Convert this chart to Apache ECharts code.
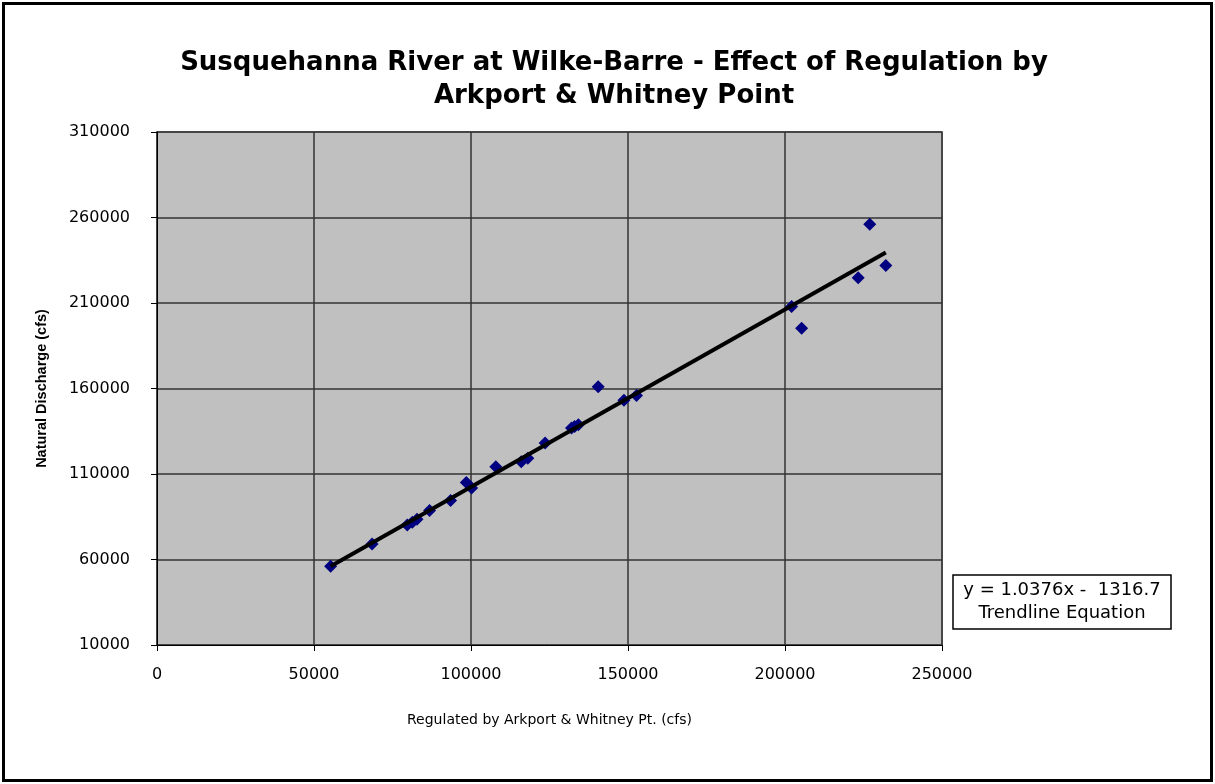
<!DOCTYPE html>
<html>
<head>
<meta charset="utf-8">
<script src="https://cdn.jsdelivr.net/npm/echarts@6/dist/echarts.min.js"></script>
<style>
  html, body { margin: 0; padding: 0; background: #fff; }
  #frame { position: absolute; left: 2px; top: 2px; width: 1205px; height: 774px; border: 3px solid #000; }
  #chart { width: 1215px; height: 784px; position: absolute; left: 0; top: 0; }
</style>
</head>
<body>
<div id="frame"></div>
<div id="chart"></div>
<script>
// regulated flow (x) vs natural discharge (y), cfs
const regulated = [55300, 68500, 79700, 81300, 82800, 86800, 93500, 98500, 100200, 107900, 116000, 118100, 123600, 132000, 133000, 134200, 140500, 148700, 152700, 202100, 205300, 223300, 227000, 232100]
const natural = [56100, 69000, 80200, 81800, 83500, 88600, 94500, 105000, 101800, 114300, 117200, 119200, 128100, 136900, 137800, 138800, 161000, 153100, 155900, 208000, 195300, 224700, 256000, 231900]
// Excel linear trendline
const slope = 1.0376
const intercept = -1316.7
const xTicks = [0, 50000, 100000, 150000, 200000, 250000]
const yTicks = [10000, 60000, 110000, 160000, 210000, 260000, 310000]

const points = regulated.map((x, i) => [x, natural[i]])
const xMin = Math.min(...regulated)
const xMax = Math.max(...regulated)
const trend = [[xMin, slope * xMin + intercept], [xMax, slope * xMax + intercept]]

const labelFont = 'DejaVu Sans, sans-serif'

const myChart = echarts.init(document.getElementById('chart'))
myChart.setOption({
  animation: false,
  title: {
    text: 'Susquehanna River at Wilke-Barre - Effect of Regulation by\nArkport & Whitney Point',
    left: 609,
    top: 42,
    textAlign: 'center',
    textStyle: {
      fontFamily: labelFont,
      fontSize: 26,
      fontWeight: 'bold',
      color: '#000',
      lineHeight: 33,
    },
  },
  grid: {
    left: 157,
    top: 132,
    width: 785,
    height: 513,
    show: true,
    backgroundColor: '#c0c0c0',
    borderColor: '#808080',
    borderWidth: 2,
  },
  xAxis: {
    type: 'value',
    min: xTicks[0],
    max: xTicks[xTicks.length - 1],
    interval: 50000,
    name: 'Regulated by Arkport & Whitney Pt. (cfs)',
    nameLocation: 'middle',
    nameGap: 68,
    nameTextStyle: { fontFamily: labelFont, fontSize: 14, color: '#000' },
    axisLine: { show: true, lineStyle: { color: '#000', width: 1 } },
    axisTick: { show: true, length: 6, lineStyle: { color: '#000' } },
    axisLabel: { fontFamily: labelFont, fontSize: 16, color: '#000', margin: 22, formatter: (v) => String(v) },
    splitLine: { show: true, lineStyle: { color: '#333', width: 1.5 } },
  },
  yAxis: {
    type: 'value',
    min: yTicks[0],
    max: yTicks[yTicks.length - 1],
    interval: 50000,
    name: 'Natural Discharge (cfs)',
    nameLocation: 'middle',
    nameGap: 108,
    nameTextStyle: { fontFamily: 'Liberation Sans, Arial', fontSize: 14.5, fontWeight: 'bold', color: '#000' },
    axisLine: { show: true, lineStyle: { color: '#000', width: 1 } },
    axisTick: { show: true, length: 6, lineStyle: { color: '#000' } },
    axisLabel: { fontFamily: labelFont, fontSize: 16, color: '#000', margin: 27, formatter: (v) => String(v) },
    splitLine: { show: true, lineStyle: { color: '#333', width: 1.5 } },
  },
  series: [
    {
      name: 'Trendline',
      type: 'line',
      data: trend,
      symbol: 'none',
      lineStyle: { color: '#000', width: 4 },
      z: 3,
    },
    {
      name: 'Data',
      type: 'scatter',
      data: points,
      symbol: 'diamond',
      symbolSize: [13, 13],
      itemStyle: { color: '#000080', opacity: 1 },
      z: 2,
    },
  ],
  graphic: [
    {
      type: 'rect',
      x: 953,
      y: 575,
      shape: { width: 218, height: 54 },
      style: { fill: '#fff', stroke: '#000', lineWidth: 1.5 },
    },
    {
      type: 'text',
      x: 1062,
      y: 579,
      style: {
        text: 'y = 1.0376x -  1316.7\nTrendline Equation',
        font: '18px "DejaVu Sans", sans-serif',
        fill: '#000',
        align: 'center',
        lineHeight: 23,
      },
    },
  ],
})
</script>
</body>
</html>
